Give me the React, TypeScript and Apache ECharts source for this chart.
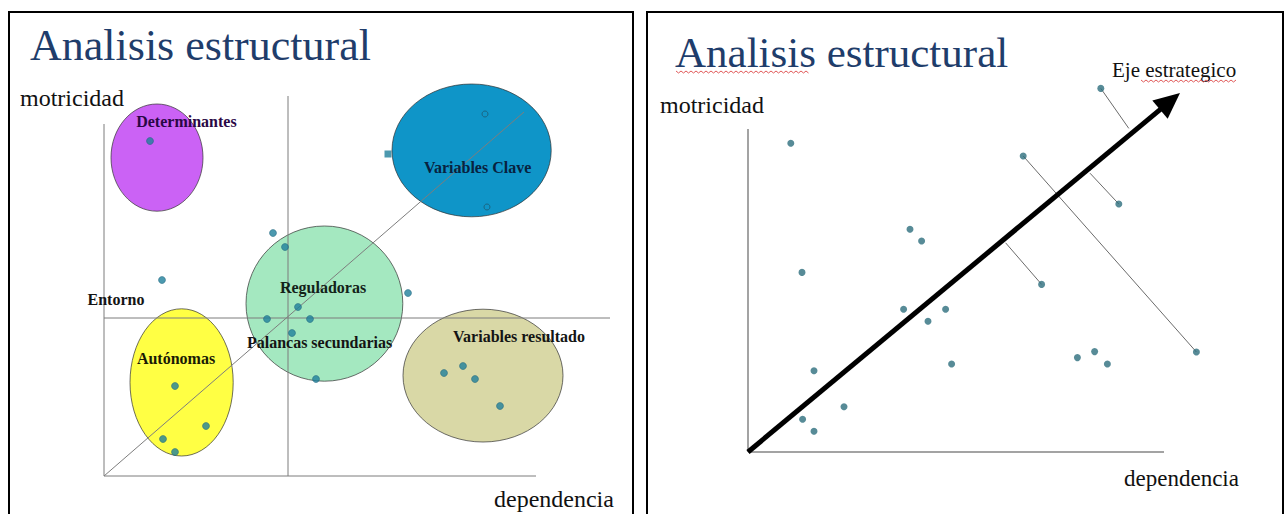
import React, { useEffect, useRef } from "react";
import * as echarts from "echarts";

// ---------- LEFT PANEL DATA (dependencia, motricidad) ----------
const LEFT_ZONE_NAMES = ["Determinantes", "Variables Clave", "Reguladoras", "Autónomas", "Variables resultado"];
// [centerX, centerY, radiusX, radiusY]
const LEFT_ZONES = [
  [13.25, 79.6, 11.5, 13.4],
  [91.9, 81.4, 19.9, 16.6],
  [55.1, 43.1, 19.6, 19.4],
  [19.4, 23.4, 12.9, 18.4],
  [94.75, 25.1, 20, 16.6],
];
const LEFT_POINTS = [
  [11.5, 83.75], [42.25, 60.75], [45.25, 57.25], [14.5, 49], [76, 45.75],
  [48.5, 42.25], [40.75, 39.25], [51.5, 39.25], [47, 35.75], [53, 24.25],
  [17.75, 22.5], [25.5, 12.5], [14.75, 9.25], [17.75, 6],
  [85, 25.75], [89.75, 27.5], [92.75, 24.25], [99, 17.5],
];
const LEFT_HOLLOW = [[95.25, 90.5], [95.75, 67.25]];
const LEFT_SQUARE = [[71, 80.5]];
// [x1, y1, x2, y2]
const LEFT_LINES = [
  [0, 0, 0, 88],
  [0, 0, 108, 0],
  [46, 0, 46, 95],
  [0, 39.5, 126.5, 39.5],
  [0, 0, 105, 91],
];
const LEFT_LABELS = ["Determinantes", "Variables Clave", "Reguladoras", "Entorno", "Palancas secundarias", "Autónomas", "Variables resultado"];
const LEFT_LABEL_POS = [
  [20.6, 88.75], [93.4, 77.25], [54.75, 47.25], [3, 44.25], [53.9, 33.5], [18, 29.5], [103.75, 35],
];

// ---------- RIGHT PANEL DATA ----------
const RIGHT_POINTS = [
  [10.7, 77.2], [88.2, 90.9], [68.8, 74], [92.7, 62], [40.5, 55.7], [43.4, 52.75],
  [13.5, 44.9], [73.4, 41.9], [38.9, 35.7], [49.4, 35.7], [45, 32.7], [112.1, 25],
  [82.35, 23.6], [86.65, 25.1], [89.85, 22], [50.9, 22], [16.5, 20.3], [24, 11.3],
  [13.65, 8.2], [16.5, 5.2],
];
const RIGHT_AXES = [[0, 0, 0, 80.75], [0, 0, 104, 0]];
const RIGHT_PROJECTIONS = [
  [88.2, 90.9, 95.2, 80.9],
  [68.8, 74, 112.1, 25],
  [92.7, 62, 85.5, 69.7],
  [73.4, 41.9, 64.4, 52.3],
];
const RIGHT_ARROW = [[0, 0, 108, 89.75]];

// ---------- STYLES ----------
const ZONE_COLORS = ["#CB62F5", "#0F95C8", "#A4E8C0", "#FFFF44", "#D9D8A6"];
const LABEL_COLORS = ["#2a0745", "#08223f", "#132218", "#141414", "#141414", "#1a1a05", "#141414"];
const SERIF = "'Liberation Serif', 'Times New Roman', serif";
const TITLE_COLOR = "#1f3d6b";

function segmentRenderer(color: string, width: number) {
  return (params: any, api: any) => {
    const a = api.coord([api.value(0), api.value(1)]);
    const b = api.coord([api.value(2), api.value(3)]);
    return {
      type: "line",
      shape: { x1: a[0], y1: a[1], x2: b[0], y2: b[1] },
      style: { stroke: color, lineWidth: width },
    };
  };
}

function squiggle(x0: number, x1: number, y: number) {
  const pts: number[][] = [];
  let up = true;
  for (let x = x0; x <= x1; x += 2.5) {
    pts.push([x, up ? y : y + 2]);
    up = !up;
  }
  return {
    type: "polyline",
    shape: { points: pts },
    style: { stroke: "#e05a5a", lineWidth: 1, fill: "none" },
    silent: true,
  };
}

function txt(text: string, x: number, y: number, size: number, color = "#111", align = "left") {
  return {
    type: "text",
    x,
    y,
    style: {
      text,
      fill: color,
      font: `${size}px ${SERIF}`,
      align,
      verticalAlign: "middle",
    },
    silent: true,
  };
}

export default function App() {
  const ref = useRef<HTMLDivElement>(null);
  useEffect(() => {
    if (!ref.current) return;
    const chart = echarts.init(ref.current, null, { renderer: "svg" });
    const option: any = {
      animation: false,
      backgroundColor: "#ffffff",
      grid: [
        { left: 104, top: 36, width: 520, height: 440 },
        { left: 748, top: 12, width: 520, height: 440 },
      ],
      xAxis: [
        { gridIndex: 0, type: "value", min: 0, max: 130, show: false },
        { gridIndex: 1, type: "value", min: 0, max: 130, show: false },
      ],
      yAxis: [
        { gridIndex: 0, type: "value", min: 0, max: 110, show: false },
        { gridIndex: 1, type: "value", min: 0, max: 110, show: false },
      ],
      series: [
        // zones
        {
          type: "custom",
          xAxisIndex: 0,
          yAxisIndex: 0,
          z: 1,
          data: LEFT_ZONES.map((z, i) => ({ value: z, name: LEFT_ZONE_NAMES[i] })),
          encode: { x: 0, y: 1 },
          renderItem: (params: any, api: any) => {
            const c = api.coord([api.value(0), api.value(1)]);
            const s = api.size([api.value(2), api.value(3)]);
            return {
              type: "ellipse",
              shape: { cx: c[0], cy: c[1], rx: s[0], ry: s[1] },
              style: {
                fill: ZONE_COLORS[params.dataIndex],
                stroke: "rgba(50,50,50,0.7)",
                lineWidth: 1,
              },
            };
          },
        },
        // left lines
        {
          type: "custom",
          xAxisIndex: 0,
          yAxisIndex: 0,
          z: 2,
          data: LEFT_LINES,
          encode: { x: [0, 2], y: [1, 3] },
          renderItem: segmentRenderer("#7d7d7d", 1),
        },
        // left points
        {
          type: "scatter",
          xAxisIndex: 0,
          yAxisIndex: 0,
          z: 3,
          symbolSize: 7,
          data: LEFT_POINTS,
          itemStyle: { color: "#1f7f9b", borderColor: "#1a5f78", borderWidth: 0.6 },
        },
        {
          type: "scatter",
          xAxisIndex: 0,
          yAxisIndex: 0,
          z: 3,
          symbol: "circle",
          symbolSize: 6,
          data: LEFT_HOLLOW,
          itemStyle: { color: "#0F95C8", borderColor: "#1d5a72", borderWidth: 1 },
        },
        {
          type: "scatter",
          xAxisIndex: 0,
          yAxisIndex: 0,
          z: 0,
          symbol: "rect",
          symbolSize: 7,
          data: LEFT_SQUARE,
          itemStyle: { color: "#1f7f9b" },
        },
        // left labels
        {
          type: "custom",
          xAxisIndex: 0,
          yAxisIndex: 0,
          z: 4,
          data: LEFT_LABEL_POS.map((p, i) => ({ value: p, name: LEFT_LABELS[i] })),
          encode: { x: 0, y: 1 },
          renderItem: (params: any, api: any) => {
            const c = api.coord([api.value(0), api.value(1)]);
            return {
              type: "text",
              x: c[0],
              y: c[1],
              style: {
                text: LEFT_LABELS[params.dataIndex],
                fill: LABEL_COLORS[params.dataIndex],
                font: `bold 16px ${SERIF}`,
                align: "center",
                verticalAlign: "middle",
              },
            };
          },
        },
        // right axes
        {
          type: "custom",
          xAxisIndex: 1,
          yAxisIndex: 1,
          z: 1,
          data: RIGHT_AXES,
          encode: { x: [0, 2], y: [1, 3] },
          renderItem: segmentRenderer("#a3a3a3", 2),
        },
        // projections
        {
          type: "custom",
          xAxisIndex: 1,
          yAxisIndex: 1,
          z: 2,
          data: RIGHT_PROJECTIONS,
          encode: { x: [0, 2], y: [1, 3] },
          renderItem: segmentRenderer("#6b6b6b", 1),
        },
        // arrow
        {
          type: "custom",
          xAxisIndex: 1,
          yAxisIndex: 1,
          z: 3,
          data: RIGHT_ARROW,
          encode: { x: [0, 2], y: [1, 3] },
          renderItem: (params: any, api: any) => {
            const a = api.coord([api.value(0), api.value(1)]);
            const b = api.coord([api.value(2), api.value(3)]);
            const dx = b[0] - a[0];
            const dy = b[1] - a[1];
            const L = Math.hypot(dx, dy);
            const ux = dx / L;
            const uy = dy / L;
            const px = -uy;
            const py = ux;
            const headLen = 26;
            const headHalf = 12;
            const bx = b[0] - ux * headLen;
            const by = b[1] - uy * headLen;
            return {
              type: "group",
              children: [
                {
                  type: "line",
                  shape: { x1: a[0], y1: a[1], x2: bx + ux * 4, y2: by + uy * 4 },
                  style: { stroke: "#000", lineWidth: 5 },
                },
                {
                  type: "polygon",
                  shape: {
                    points: [
                      [b[0], b[1]],
                      [bx + px * headHalf, by + py * headHalf],
                      [bx - px * headHalf, by - py * headHalf],
                    ],
                  },
                  style: { fill: "#000" },
                },
              ],
            };
          },
        },
        // right points
        {
          type: "scatter",
          xAxisIndex: 1,
          yAxisIndex: 1,
          z: 4,
          symbolSize: 7,
          data: RIGHT_POINTS,
          itemStyle: { color: "#2d6e7d" },
        },
      ],
      graphic: [
        {
          type: "rect",
          shape: { x: 9, y: 12, width: 624, height: 520 },
          style: { fill: "none", stroke: "#000", lineWidth: 2 },
          silent: true,
          z: 100,
        },
        {
          type: "rect",
          shape: { x: 647, y: 12, width: 636, height: 520 },
          style: { fill: "none", stroke: "#000", lineWidth: 2 },
          silent: true,
          z: 100,
        },
        txt("Analisis estructural", 30, 45, 44, TITLE_COLOR),
        txt("motricidad", 20, 98, 24, "#111"),
        txt("dependencia", 494, 499, 24, "#111"),
        txt("Analisis estructural", 675, 52.5, 43, TITLE_COLOR),
        txt("Eje estrategico", 1112, 70, 21, "#111"),
        txt("motricidad", 660, 105, 24, "#111"),
        txt("dependencia", 1124, 478, 23, "#111"),
        squiggle(676, 810, 71),
        squiggle(1141, 1238, 80),
      ],
    };
    chart.setOption(option);
    return () => chart.dispose();
  }, []);
  return (
    <div
      ref={ref}
      style={{ position: "fixed", left: 0, top: 0, width: 1284, height: 514, background: "#fff" }}
    />
  );
}
